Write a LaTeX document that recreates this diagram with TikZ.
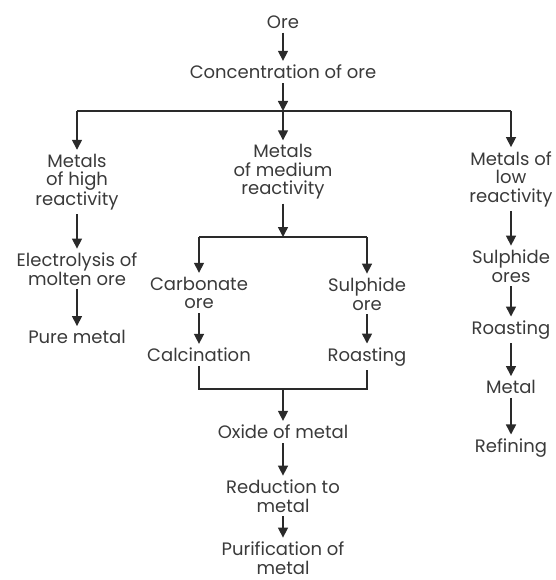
\documentclass[tikz,border=0pt]{standalone}
\usepackage{fontspec}
\setmainfont{Poppins}
\usetikzlibrary{arrows.meta}
\definecolor{txt}{HTML}{3A3A3A}
\definecolor{lnc}{HTML}{2A2A2A}
\tikzset{
  lbl/.style={font=\fontsize{18}{18.5}\selectfont, text=txt, align=center, inner sep=4pt},
  arr/.style={draw=lnc, line width=1.5pt, -{Triangle[length=10pt,width=10pt]}},
  conn/.style={draw=lnc, line width=1.5pt},
}
\begin{document}
\begin{tikzpicture}[x=1pt,y=-1pt]
\useasboundingbox (0,0) rectangle (555,580);
% top
\node[lbl] (ore) at (283,22) {Ore};
\node[lbl] (conc) at (283,72) {Concentration of ore};
\node[lbl] (high) at (77,182) {Metals\\of high\\reactivity};
\node[lbl] (med) at (283,172) {Metals\\of medium\\reactivity};
\node[lbl] (low) at (511,179) {Metals of\\low\\reactivity};
\coordinate (hub) at (283,111);
\draw[arr] (ore.south) -- (conc.north);
\draw[arr] (conc.south) -- (hub);
\draw[conn] (high.north |- hub) -- (low.north |- hub);
\draw[arr] (hub) -- (med.north);
\draw[arr] (high.north |- hub) -- (high.north);
\draw[arr] (low.north |- hub) -- (low.north);
% left column
\node[lbl] (electro) at (77,269) {Electrolysis of\\molten ore};
\node[lbl] (pure) at (77,337) {Pure metal};
\draw[arr] (high.south) -- (electro.north);
\draw[arr] (electro.south) -- (pure.north);
% middle column
\coordinate (hubb) at (283,237);
\node[lbl] (carb) at (199,293) {Carbonate\\ore};
\node[lbl] (calc) at (199,355) {Calcination};
\node[lbl] (sulph) at (367,294) {Sulphide\\ore};
\node[lbl] (roastA) at (367,357) {Roasting};
\draw[arr] (med.south) -- (hubb);
\draw[conn] (carb.north |- hubb) -- (sulph.north |- hubb);
\draw[arr] (carb.north |- hubb) -- (carb.north);
\draw[arr] (sulph.north |- hubb) -- (sulph.north);
\draw[arr] (carb.south) -- (calc.north);
\draw[arr] (sulph.south) -- (roastA.north);
\coordinate (join) at (283,389);
\node[lbl] (oxide) at (283,432) {Oxide of metal};
\node[lbl] (reduc) at (283,496) {Reduction to\\metal};
\node[lbl] (purif) at (283,558) {Purification of\\metal};
\draw[conn] (calc.south) -- (calc.south |- join) -- (roastA.south |- join) -- (roastA.south);
\draw[arr] (join) -- (oxide.north);
\draw[arr] (oxide.south) -- (reduc.north);
\draw[arr] (reduc.south) -- (purif.north);
% right column
\node[lbl] (sulores) at (511,266) {Sulphide\\ores};
\node[lbl] (roastB) at (511,330) {Roasting};
\node[lbl] (metal) at (511,387) {Metal};
\node[lbl] (refin) at (511,448) {Refining};
\draw[arr] (low.south) -- (sulores.north);
\draw[arr] (sulores.south) -- (roastB.north);
\draw[arr] (roastB.south) -- (metal.north);
\draw[arr] (metal.south) -- (refin.north);
\end{tikzpicture}
\end{document}
